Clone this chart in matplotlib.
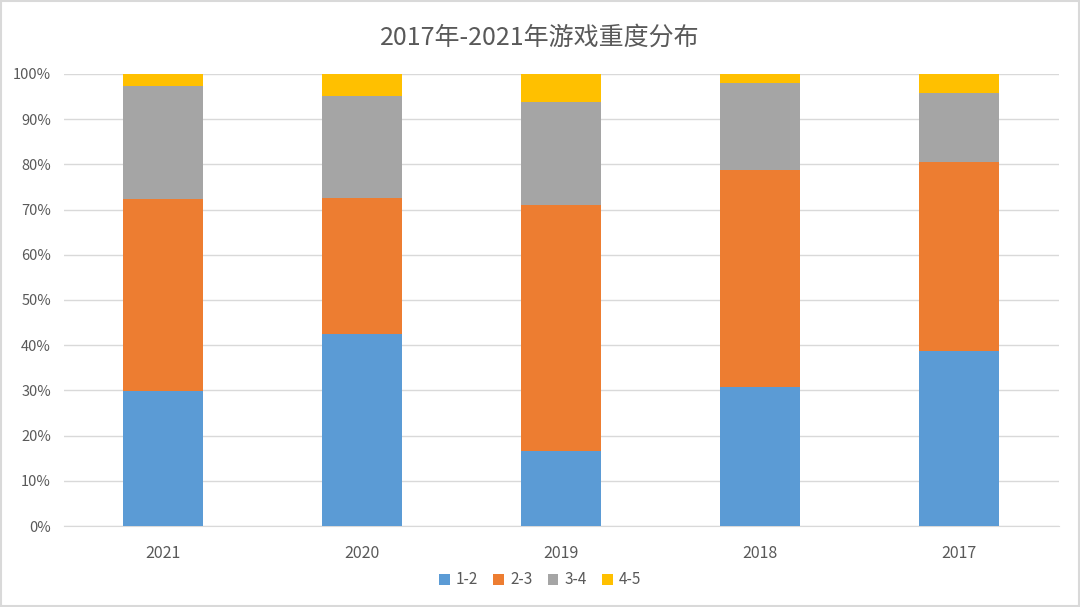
import matplotlib
matplotlib.use("Agg")
import matplotlib.pyplot as plt
from matplotlib.patches import Rectangle
import numpy as np

plt.rcParams['font.family'] = ['Noto Sans CJK SC', 'DejaVu Sans']

years = ["2021", "2020", "2019", "2018", "2017"]
series_names = ["1-2", "2-3", "3-4", "4-5"]
s12 = [29.9, 42.5, 16.6, 30.8, 38.7]
s23 = [42.4, 30.1, 54.4, 48.0, 41.8]
s34 = [25.0, 22.5, 22.7, 19.3, 15.2]
s45 = [2.7, 4.9, 6.3, 1.9, 4.3]
colors = ["#5B9BD5", "#ED7D31", "#A5A5A5", "#FFC000"]

fig = plt.figure(figsize=(10.8, 6.07), dpi=100)
ax = fig.add_axes([63.5/1080, 1-526/607, 995/1080, 452/607])

data = np.array([s12, s23, s34, s45], dtype=float)
totals = data.sum(axis=0)
pct = data / totals * 100
x = np.arange(len(years))
bottom = np.zeros(len(years))
for i, name in enumerate(series_names):
    ax.bar(x, pct[i], bottom=bottom, width=0.4, color=colors[i], label=name, zorder=3)
    bottom += pct[i]

ax.set_xlim(-0.5, len(years) - 0.5)
ax.set_ylim(0, 100)
ax.set_yticks(np.arange(0, 101, 10))
ax.set_yticklabels([f"{v}%" for v in range(0, 101, 10)])
ax.set_xticks(x)
ax.set_xticklabels(years)
ax.grid(axis='y', color='#D9D9D9', linewidth=1, zorder=0)
for s in ['top', 'right', 'left']:
    ax.spines[s].set_visible(False)
ax.spines['bottom'].set_color('#D9D9D9')
ax.tick_params(axis='both', length=0, colors='#595959', labelsize=10.5)
ax.tick_params(axis='x', pad=14, labelsize=11.5)
ax.tick_params(axis='y', pad=9)

fig.text(0.5, 1 - 38/607, "2017年-2021年游戏重度分布", ha='center', va='center',
         fontsize=18, color='#595959')

leg = fig.legend(*ax.get_legend_handles_labels(), loc='center', bbox_to_anchor=(0.5, 1 - 580/607),
                 ncol=4, frameon=False, fontsize=11, handlelength=0.7, handleheight=0.7,
                 handletextpad=0.4, columnspacing=1.0, labelcolor='#595959')

fig.patches.append(Rectangle((0.001, 0.001), 0.998, 0.998, transform=fig.transFigure,
                             fill=False, edgecolor='#D9D9D9', linewidth=1.5))

fig.savefig("out.png", dpi=100, facecolor='white')
